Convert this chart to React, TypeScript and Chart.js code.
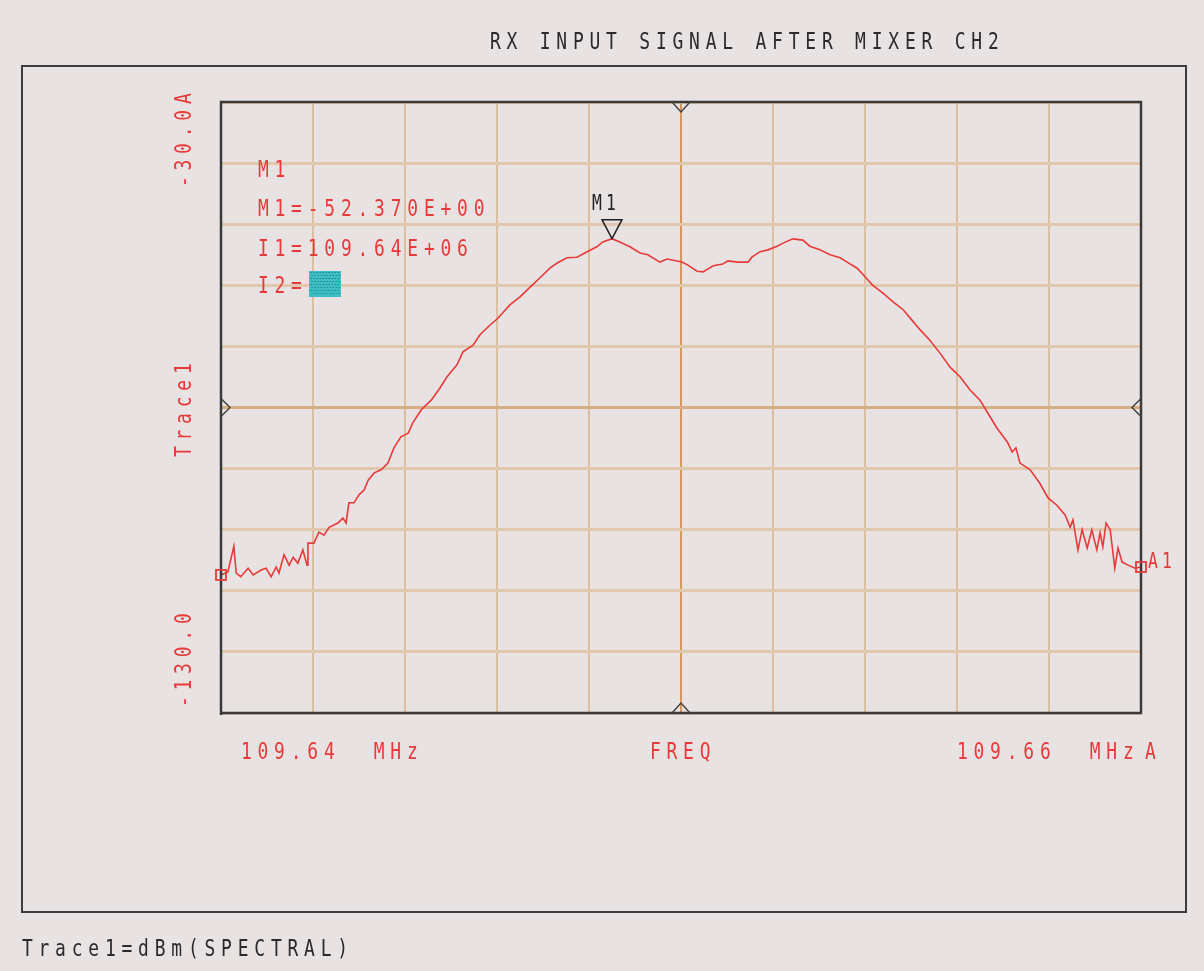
import { useEffect, useRef } from "react";
import { Chart, registerables } from "chart.js";

Chart.register(...registerables);

// Frequency offset from the 109.64 MHz start (kHz), span 20 kHz
const freqOffsetKHz = [
  0.0, 0.15, 0.28, 0.33, 0.43, 0.59, 0.7, 0.87, 0.98, 1.09,
  1.2, 1.26, 1.37, 1.48, 1.57, 1.67, 1.78, 1.87, 1.89, 2.02,
  2.13, 2.24, 2.35, 2.54, 2.65, 2.72, 2.78, 2.89, 3.0, 3.11,
  3.2, 3.33, 3.48, 3.63, 3.76, 3.91, 4.07, 4.17, 4.35, 4.57,
  4.76, 4.91, 5.13, 5.26, 5.48, 5.63, 5.85, 6.02, 6.28, 6.5,
  6.72, 6.93, 7.15, 7.3, 7.52, 7.74, 7.96, 8.17, 8.3, 8.5,
  8.67, 8.89, 9.11, 9.28, 9.54, 9.7, 9.83, 10.02, 10.15, 10.35,
  10.48, 10.7, 10.91, 11.02, 11.24, 11.46, 11.54, 11.72, 11.89, 12.09,
  12.22, 12.43, 12.65, 12.8, 13.02, 13.24, 13.46, 13.61, 13.83, 14.0,
  14.17, 14.39, 14.61, 14.83, 15.02, 15.2, 15.41, 15.63, 15.85, 16.07,
  16.28, 16.5, 16.67, 16.87, 17.09, 17.2, 17.28, 17.37, 17.59, 17.8,
  17.98, 18.17, 18.35, 18.46, 18.52, 18.63, 18.72, 18.83, 18.93, 19.04,
  19.11, 19.17, 19.24, 19.33, 19.43, 19.5, 19.59, 19.72, 19.87, 20.0,
];

// Trace1 level (dBm, spectral)
const levelDbm = [
  -107.4, -106.9, -102.7, -107.1, -107.7, -106.3, -107.4, -106.6, -106.3, -107.7,
  -106.1, -107.1, -104.1, -105.8, -104.5, -105.5, -103.3, -105.8, -102.2, -102.2,
  -100.4, -100.9, -99.6, -98.9, -98.1, -98.9, -95.6, -95.6, -94.3, -93.5,
  -91.9, -90.7, -90.2, -89.1, -86.6, -84.8, -84.2, -82.5, -80.4, -78.8,
  -76.8, -75.0, -73.0, -70.9, -69.8, -68.1, -66.5, -65.4, -63.2, -61.9,
  -60.3, -58.8, -57.2, -56.4, -55.5, -55.4, -54.5, -53.7, -52.9, -52.37,
  -52.9, -53.7, -54.7, -55.0, -56.2, -55.7, -55.9, -56.2, -56.7, -57.7,
  -57.8, -56.8, -56.5, -56.0, -56.2, -56.2, -55.4, -54.5, -54.2, -53.6,
  -53.1, -52.4, -52.6, -53.6, -54.2, -55.0, -55.5, -56.2, -57.2, -58.6,
  -60.0, -61.3, -62.7, -64.0, -65.7, -67.3, -69.0, -71.1, -73.4, -75.0,
  -77.1, -78.8, -80.9, -83.4, -85.6, -87.3, -86.6, -89.1, -90.2, -92.4,
  -94.8, -96.0, -97.6, -99.6, -98.4, -103.3, -100.0, -103.0, -100.0, -103.3,
  -100.5, -102.8, -98.9, -100.0, -106.3, -103.0, -105.3, -105.8, -106.3, -106.1,
];

const M1_INDEX = 59;
const X_MIN = 0;
const X_MAX = 20;
const X_STEP = 2;
const Y_MIN = -130;
const Y_MAX = -30;
const Y_STEP = 10;

const titleText = "RX INPUT SIGNAL AFTER MIXER CH2";
const yTopLabel = "-30.0A";
const yMidLabel = "Trace1";
const yBottomLabel = "-130.0";
const xLeftLabel = "109.64  MHz";
const xCenterLabel = "FREQ";
const xRightLabel = "109.66  MHz";
const xRightSuffix = "A";
const markerLines = ["M1", "M1=-52.370E+00", "I1=109.64E+06", "I2="];
const footerText = "Trace1=dBm(SPECTRAL)";
const markerName = "M1";
const endMarkerName = "A1";

const BG = "#e8e2e2";
const RED = "#e83a3a";
const FONT = '"DejaVu Sans Mono", monospace';

function spaced(
  ctx: CanvasRenderingContext2D,
  text: string,
  x: number,
  y: number,
  pitch: number,
  size: number,
  color: string,
  sx = 0.78
) {
  ctx.save();
  ctx.font = `${size}px ${FONT}`;
  ctx.fillStyle = color;
  ctx.textAlign = "center";
  ctx.textBaseline = "alphabetic";
  for (let i = 0; i < text.length; i++) {
    const ch = text[i];
    if (ch === " ") continue;
    ctx.save();
    ctx.translate(x + i * pitch + pitch / 2, y);
    ctx.scale(sx, 1);
    ctx.fillText(ch, 0, 0);
    ctx.restore();
  }
  ctx.restore();
}

function spacedVertical(
  ctx: CanvasRenderingContext2D,
  text: string,
  xBase: number,
  yStart: number,
  pitch: number,
  size: number,
  color: string
) {
  ctx.save();
  ctx.translate(xBase, yStart);
  ctx.rotate(-Math.PI / 2);
  spaced(ctx, text, 0, 0, pitch, size, color);
  ctx.restore();
}

const overlayPlugin = {
  id: "overlay",
  beforeDraw(chart: any) {
    const { ctx, width, height } = chart;
    ctx.save();
    ctx.fillStyle = BG;
    ctx.fillRect(0, 0, width, height);
    ctx.restore();
  },
  afterDraw(chart: any) {
    const { ctx, chartArea } = chart;
    const xs = chart.scales.x;
    const ys = chart.scales.y;
    const { left, right, top, bottom } = chartArea;
    const P = 16.6;
    const S = 23;

    ctx.save();
    // outer frame
    ctx.strokeStyle = "#3c3c3c";
    ctx.lineWidth = 2;
    ctx.strokeRect(22, 66, 1164, 846);

    // plot frame
    ctx.strokeStyle = "#3a3a3a";
    ctx.lineWidth = 2.5;
    ctx.strokeRect(left, top, right - left, bottom - top);

    // reference notches at center of borders
    const cx = xs.getPixelForValue((X_MIN + X_MAX) / 2);
    const cy = ys.getPixelForValue((Y_MIN + Y_MAX) / 2);
    ctx.strokeStyle = "#444";
    ctx.lineWidth = 1.5;
    ctx.beginPath();
    ctx.moveTo(cx - 9, top);
    ctx.lineTo(cx, top + 10);
    ctx.lineTo(cx + 9, top);
    ctx.moveTo(cx - 9, bottom);
    ctx.lineTo(cx, bottom - 10);
    ctx.lineTo(cx + 9, bottom);
    ctx.moveTo(left, cy - 9);
    ctx.lineTo(left + 9, cy);
    ctx.lineTo(left, cy + 9);
    ctx.moveTo(right, cy - 9);
    ctx.lineTo(right - 9, cy);
    ctx.lineTo(right, cy + 9);
    ctx.stroke();

    // M1 marker triangle
    const mx = xs.getPixelForValue(freqOffsetKHz[M1_INDEX]);
    const my = ys.getPixelForValue(levelDbm[M1_INDEX]);
    ctx.strokeStyle = "#222";
    ctx.lineWidth = 1.5;
    ctx.beginPath();
    ctx.moveTo(mx - 10, my - 19);
    ctx.lineTo(mx + 10, my - 19);
    ctx.lineTo(mx, my);
    ctx.closePath();
    ctx.stroke();
    spaced(ctx, markerName, mx - 22, my - 29, 14, 21, "#222");

    // start / end square markers
    const n = freqOffsetKHz.length;
    const sxp = xs.getPixelForValue(freqOffsetKHz[0]);
    const syp = ys.getPixelForValue(levelDbm[0]);
    const exp = xs.getPixelForValue(freqOffsetKHz[n - 1]);
    const eyp = ys.getPixelForValue(levelDbm[n - 1]);
    ctx.strokeStyle = RED;
    ctx.lineWidth = 1.8;
    ctx.strokeRect(sxp - 5, syp - 5, 10, 10);
    ctx.strokeRect(exp - 5, eyp - 5, 10, 10);
    spaced(ctx, endMarkerName, exp + 5, eyp + 1, 14, 21, RED);

    // title
    spaced(ctx, titleText, 487, 49, P, S, "#2a2a2a");

    // marker readout
    spaced(ctx, markerLines[0], 255, 177, P, S, RED);
    spaced(ctx, markerLines[1], 255, 216, P, S, RED);
    spaced(ctx, markerLines[2], 255, 256, P, S, RED);
    spaced(ctx, markerLines[3], 255, 293, P, S, RED);

    // cyan box
    ctx.fillStyle = "#3dbdc4";
    ctx.fillRect(309, 271, 32, 26);
    ctx.fillStyle = "#1d6f74";
    for (let yy = 272; yy < 296; yy += 3) {
      for (let xx = 310 + ((yy / 3) % 2); xx < 340; xx += 3) {
        ctx.fillRect(xx, yy, 1, 1);
      }
    }

    // y labels (vertical)
    spacedVertical(ctx, yTopLabel, 191, 190, P, S, RED);
    spacedVertical(ctx, yMidLabel, 191, 460, P, S, RED);
    spacedVertical(ctx, yBottomLabel, 191, 710, P, S, RED);

    // x labels
    spaced(ctx, xLeftLabel, 238, 759, P, S, RED);
    spaced(ctx, xCenterLabel, 647, 759, P, S, RED);
    spaced(ctx, xRightLabel, 954, 759, P, S, RED);
    spaced(ctx, xRightSuffix, 1142, 759, P, S, RED);

    // footer
    spaced(ctx, footerText, 19, 956, P, S, "#2a2a2a");
    ctx.restore();
  },
};

export default function App() {
  const ref = useRef<HTMLCanvasElement | null>(null);

  useEffect(() => {
    document.body.style.margin = "0";
    document.body.style.background = BG;
    const canvas = ref.current;
    if (!canvas) return;
    const chart = new Chart(canvas, {
      type: "line",
      data: {
        datasets: [
          {
            label: "Trace1",
            data: freqOffsetKHz.map((f, i) => ({ x: f, y: levelDbm[i] })),
            borderColor: RED,
            borderWidth: 1.6,
            pointRadius: 0,
            tension: 0,
            fill: false,
          },
        ],
      },
      options: {
        responsive: false,
        animation: false,
        layout: { padding: { left: 221, top: 102, right: 63, bottom: 258 } },
        plugins: { legend: { display: false }, tooltip: { enabled: false } },
        scales: {
          x: {
            type: "linear",
            min: X_MIN,
            max: X_MAX,
            ticks: { display: false, stepSize: X_STEP },
            grid: {
              drawTicks: false,
              color: (c: any) => (c.tick && c.tick.value === 10 ? "#d4975c" : "#dcbf9f"),
              lineWidth: 2,
            },
            border: { display: true, color: "#3a3a3a", width: 2 },
          },
          y: {
            type: "linear",
            min: Y_MIN,
            max: Y_MAX,
            ticks: { display: false, stepSize: Y_STEP },
            grid: {
              drawTicks: false,
              color: (c: any) => (c.tick && c.tick.value === -80 ? "#d6ae86" : "#e0c8ae"),
              lineWidth: 3,
            },
            border: { display: true, color: "#222", width: 2 },
          },
        },
      },
      plugins: [overlayPlugin],
    });
    return () => chart.destroy();
  }, []);

  return <canvas ref={ref} width={1204} height={971} style={{ display: "block" }} />;
}
